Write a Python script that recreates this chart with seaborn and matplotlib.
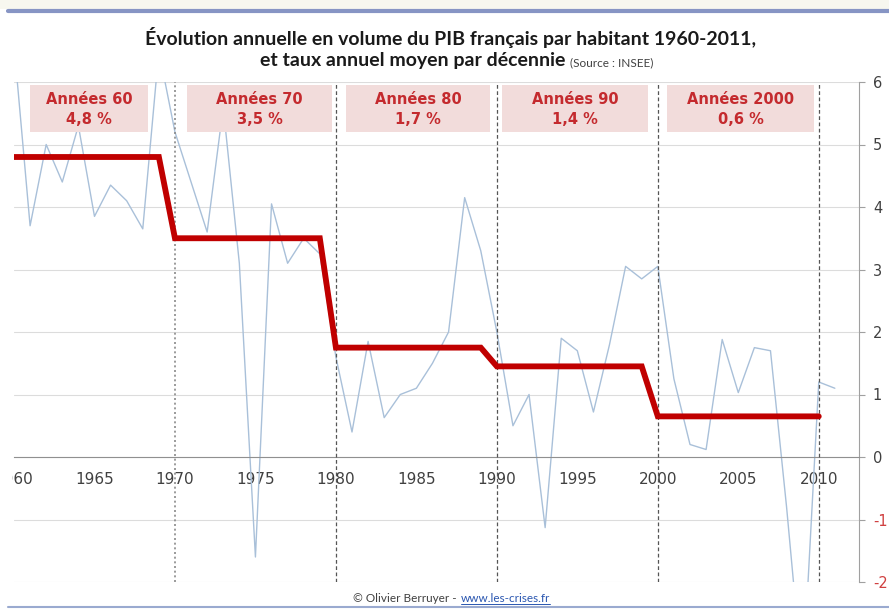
import matplotlib
matplotlib.use("Agg")
import pandas as pd
import seaborn as sns
from matplotlib import pyplot as plt
from matplotlib.patches import Rectangle
from matplotlib.lines import Line2D

# croissance annuelle du PIB par habitant (volume, %)
years = list(range(1960, 2012))
growth = [6.6, 3.7, 5.0, 4.4, 5.3, 3.85, 4.35, 4.1, 3.65, 6.5,
          5.2, 4.4, 3.6, 5.6, 3.1, -1.6, 4.05, 3.1, 3.5, 3.25,
          1.6, 0.4, 1.85, 0.63, 1.0, 1.1, 1.5, 2.0, 4.15, 3.3,
          2.0, 0.5, 1.0, -1.13, 1.9, 1.7, 0.72, 1.8, 3.05, 2.85,
          3.05, 1.25, 0.2, 0.12, 1.88, 1.03, 1.75, 1.7, -0.8, -3.6,
          1.2, 1.1]

decades = [1960, 1970, 1980, 1990, 2000]
decade_names = ["Années 60", "Années 70", "Années 80", "Années 90", "Années 2000"]
decade_rates = ["4,8 %", "3,5 %", "1,7 %", "1,4 %", "0,6 %"]
decade_levels = [4.8, 3.5, 1.75, 1.45, 0.65]
decade_marks = [1970, 1980, 1990, 2000, 2010]
y_ticks = [-2, -1, 0, 1, 2, 3, 4, 5, 6]
x_ticks = list(range(1960, 2011, 5))

avg_years = list(range(1960, 2011))
avg_values = [decade_levels[min((y - 1960) // 10, 4)] for y in avg_years]

df = pd.DataFrame({"annee": years, "croissance": growth})
df_avg = pd.DataFrame({"annee": avg_years, "moyenne": avg_values})

sns.set_style("white")
plt.rcParams["font.family"] = ["Lato", "DejaVu Sans"]

W, H = 889, 610
fig = plt.figure(figsize=(W / 100, H / 100), dpi=100)
ax = fig.add_axes([14 / W, 1 - 582 / H, 845 / W, 500 / H])


def fx(px):
    return px / W


def fy(py):
    return 1 - py / H


# cadre de la page
fig.patches.append(Rectangle((0, fy(9)), 1, 9 / H, transform=fig.transFigure,
                             facecolor="#f7f7ef", edgecolor="none", zorder=0))
fig.lines.append(Line2D([fx(8), 1], [fy(11), fy(11)], transform=fig.transFigure,
                        color="#8795c4", lw=3))
fig.lines.append(Line2D([fx(8), 1], [fy(607), fy(607)], transform=fig.transFigure,
                        color="#9aaad0", lw=1.5))

sns.lineplot(data=df, x="annee", y="croissance", ax=ax, color="#a9c0d9",
             lw=1.0, zorder=2)
sns.lineplot(data=df_avg, x="annee", y="moyenne", ax=ax, color="#c00000",
             lw=4.2, zorder=4, solid_joinstyle="miter")

# la première séparation est en pointillé plus clair
for i, xm in enumerate(decade_marks):
    if i == 0:
        ax.axvline(xm, color="#8a8a8a", lw=1.2, ls=(0, (1.2, 1.6)), zorder=3)
    else:
        ax.axvline(xm, color="#555555", lw=0.9, ls=(0, (3, 2)), zorder=3)

box_spans = [(1.0, 8.3), (0.75, 9.75), (0.65, 9.6), (0.3, 9.4), (0.6, 9.7)]
for d, name, rate, (a, b) in zip(decades, decade_names, decade_rates, box_spans):
    ax.add_patch(Rectangle((d + a, 5.2), b - a, 0.75, facecolor="#f2dcdb",
                           edgecolor="none", zorder=5))
    ax.text(d + (a + b) / 2, 5.56, f"{name}\n{rate}", ha="center", va="center",
            color="#c42a2e", fontsize=10.5, fontweight="bold",
            fontfamily="DejaVu Sans", linespacing=1.4, zorder=6)

ax.set_xlim(1960, 2011)
ax.set_ylim(-2, 6)
ax.set_xlabel("")
ax.set_ylabel("")

ax.yaxis.tick_right()
ax.set_yticks(y_ticks)
ax.set_yticklabels([str(v) for v in y_ticks])
ax.tick_params(axis="y", length=4, color="#a0a0a0", pad=6,
               labelfontfamily="DejaVu Sans", labelsize=10.5)
for lab, v in zip(ax.get_yticklabels(), y_ticks):
    lab.set_color("#d04040" if v < 0 else "#404040")

ax.set_xticks(x_ticks)
ax.set_xticks([x + 2.5 for x in x_ticks], minor=True)
ax.set_xticklabels([str(v) for v in x_ticks])
ax.tick_params(axis="x", which="both", direction="inout", length=5,
               color="#a0a0a0", pad=8, labelcolor="#404040",
               labelfontfamily="DejaVu Sans", labelsize=11)

ax.yaxis.grid(True, color="#dcdcdc", lw=0.8)
ax.xaxis.grid(False)
ax.set_axisbelow(True)
ax.spines["top"].set_visible(False)
ax.spines["left"].set_visible(False)
ax.spines["right"].set_color("#a0a0a0")
ax.spines["bottom"].set_position(("data", 0))
ax.spines["bottom"].set_color("#909090")

# la capture d'origine est rognée à gauche
fig.patches.append(Rectangle((0, fy(600)), 12 / W, 530 / H, transform=fig.transFigure,
                             facecolor="white", edgecolor="none", zorder=10))

# titre
fig.text(fx(451), fy(38), "Évolution annuelle en volume du PIB français par habitant 1960-2011,",
         ha="center", va="center", fontsize=14, fontweight="bold", color="#1a1a1a")
fig.text(fx(565), fy(66), "et taux annuel moyen par décennie", ha="right",
         va="baseline", fontsize=14, fontweight="bold", color="#1a1a1a")
fig.text(fx(570), fy(66), "(Source : INSEE)", ha="left", va="baseline",
         fontsize=8.5, color="#404040")

# pied de page
fig.text(fx(460), fy(602), "© Olivier Berruyer - ", ha="right", va="baseline",
         fontsize=8.5, color="#404040")
link = fig.text(fx(461), fy(602), "www.les-crises.fr", ha="left", va="baseline",
                fontsize=8.5, color="#2a56b0")
fig.canvas.draw()
bb = link.get_window_extent()
fig.lines.append(Line2D([bb.x0 / W, bb.x1 / W], [fy(604), fy(604)],
                        transform=fig.transFigure, color="#2a56b0", lw=0.7))

fig.savefig("out.png", dpi=100)
